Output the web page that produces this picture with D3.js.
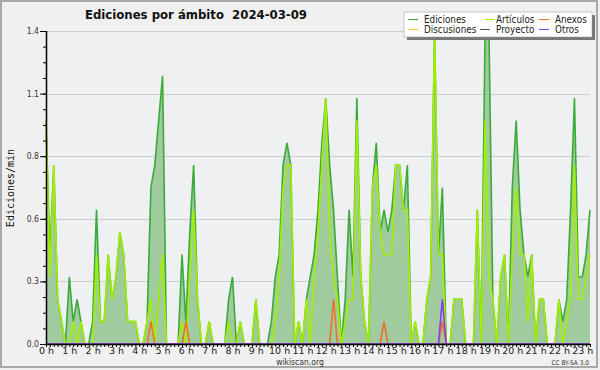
<!DOCTYPE html>
<html lang="es">
<head>
<meta charset="UTF-8">
<title>Ediciones por ámbito</title>
<script src="https://d3js.org/d3.v7.min.js"></script>
<style>
  body { margin: 0; background: #f0f0f0; }
  svg { display: block; }
  .cond { font-family: "DejaVu Sans Condensed", "DejaVu Sans", sans-serif; font-stretch: condensed; }
</style>
</head>
<body>
<svg id="chart" width="600" height="370"></svg>
<script>
// 10-minute steps, 0:00 .. 23:20
const ediciones = [1.0,0.4,0.8,0.2,0.1,0,0.3,0.1,0.2,0.1,0,0,0.1,0.6,0.1,0.1,0.4,0.2,0.3,0.5,
  0.4,0.1,0.1,0.1,0,0,0.1,0.7,0.8,1.0,1.2,0,0,0,0,0.4,0.1,0.5,0.8,0.2,
  0,0,0.1,0,0,0,0,0.2,0.3,0,0.1,0,0,0,0.2,0,0,0,0.1,0.3,
  0.4,0.8,0.9,0.8,0,0.1,0,0.2,0.3,0.4,0.6,0.9,1.1,0.8,0.6,0.3,0,0.2,0.6,0.3,
  1.1,0.3,0.1,0,0.7,0.9,0.5,0.6,0.5,0.6,0.8,0.8,0.6,0.8,0,0.1,0,0,0.2,0.3,
  1.4,0.4,0.7,0,0,0.2,0.2,0.2,0,0,0,0.6,0,1.4,1.4,0.2,0,0.3,0.4,0,
  0.7,1.0,0.6,0.4,0.3,0.4,0,0.2,0.2,0,0,0,0.2,0.1,0.2,0.6,1.1,0.3,0.3,0.4,
  0.6];
const articulos = [1.0,0.3,0.8,0.2,0.1,0,0,0.1,0,0.1,0,0,0,0.4,0.1,0.1,0.4,0.2,0.3,0.5,
  0.4,0.1,0.1,0.1,0,0,0.1,0.2,0,0.2,0.4,0,0,0,0,0.1,0,0.3,0.6,0.2,
  0,0,0.1,0,0,0,0,0.1,0,0,0.1,0,0,0,0.2,0,0,0,0,0.1,
  0.3,0.7,0.8,0.8,0,0.1,0,0.2,0,0.3,0.5,0.8,1.1,0.5,0.3,0.2,0,0.1,0.2,0.2,
  1.0,0.3,0.1,0,0.7,0.8,0.5,0.4,0.4,0.4,0.8,0.8,0.6,0.6,0,0.1,0,0,0.2,0.3,
  1.4,0.4,0.4,0,0,0.2,0.2,0.2,0,0,0,0.6,0,1.0,0.3,0.2,0,0.3,0.4,0,
  0.4,0.7,0.4,0.4,0.1,0.4,0,0.2,0.2,0,0,0,0.2,0,0.1,0.2,0.8,0.2,0.2,0.3,
  0.4];
const discusiones = [0,0,0,0,0,0,0,0,0,0,0,0,0,0,0,0,0,0,0,0,
  0,0,0,0,0,0,0,0,0,0,0,0,0,0,0,0,0,0,0,0,
  0,0,0,0,0,0,0,0,0,0,0,0,0,0,0,0,0,0,0,0,
  0,0,0,0,0,0,0,0,0,0,0,0,0,0,0,0,0,0,0,0,
  0,0,0,0,0,0,0,0,0,0,0,0,0,0,0,0,0,0,0,0,
  0,0,0,0,0,0,0,0,0,0,0,0,0,0,0,0,0,0,0,0,
  0,0,0,0,0,0,0,0,0,0,0,0,0,0,0,0,0,0,0,0,
  0];
const proyecto = discusiones.slice();
const anexos = [0,0,0,0,0,0,0,0,0,0,0,0,0,0,0,0,0,0,0,0,
  0,0,0,0,0,0,0,0.1,0,0,0,0,0,0,0,0,0.1,0,0,0,
  0,0,0,0,0,0,0,0,0,0,0,0,0,0,0,0,0,0,0,0,
  0,0,0,0,0,0,0,0,0,0,0,0,0,0,0.2,0,0,0,0,0,
  0,0,0,0,0,0,0,0.1,0,0,0,0,0,0,0,0,0,0,0,0,
  0,0,0.1,0,0,0,0,0,0,0,0,0,0,0,0,0,0,0,0,0,
  0,0,0,0,0,0,0,0,0,0,0,0,0,0,0,0,0,0,0,0,
  0];
const otros = [0,0,0,0,0,0,0,0,0,0,0,0,0,0,0,0,0,0,0,0,
  0,0,0,0,0,0,0,0,0,0,0,0,0,0,0,0,0,0,0,0,
  0,0,0,0,0,0,0,0,0,0,0,0,0,0,0,0,0,0,0,0,
  0,0,0,0,0,0,0,0,0,0,0,0,0,0,0,0,0,0,0,0,
  0,0,0,0,0,0,0,0,0,0,0,0,0,0,0,0,0,0,0,0,
  0,0,0.2,0,0,0,0,0,0,0,0,0,0,0,0,0,0,0,0,0,
  0,0,0,0,0,0,0,0,0,0,0,0,0,0,0,0,0,0,0,0,
  0];
const yMajor = [0, 0.28, 0.56, 0.84, 1.12, 1.4];
const hourLabels = d3.range(24).map(h => h + " h");

const series = [
  {name: "Ediciones",   values: ediciones,   color: "#3aab3a"},
  {name: "Artículos",   values: articulos,   color: "#a6ee00"},
  {name: "Anexos",      values: anexos,      color: "#f0702a"},
  {name: "Discusiones", values: discusiones, color: "#ffcc33"},
  {name: "Proyecto",    values: proyecto,    color: "#555555"},
  {name: "Otros",       values: otros,       color: "#8a3cf0"}
];

const svg = d3.select("#chart");
const pLeft = 46, pRight = 590, pTop = 31, pBottom = 344;

const x = d3.scaleLinear().domain([0, ediciones.length - 1]).range([pLeft, pRight]);
const y = d3.scaleLinear().domain([0, 1.4]).range([pBottom, pTop]);

// frame
svg.append("rect").attr("x", 1).attr("y", 1).attr("width", 596).attr("height", 366)
  .attr("fill", "#f0f0f0").attr("stroke", "#a8a8a8").attr("stroke-width", 2);

// plot background
svg.append("rect").attr("x", pLeft).attr("y", pTop).attr("width", pRight - pLeft).attr("height", pBottom - pTop)
  .attr("fill", "#eef0f2");

// grid
svg.append("g").selectAll("line").data(yMajor.slice(1)).join("line")
  .attr("x1", pLeft).attr("x2", pRight)
  .attr("y1", d => Math.round(y(d)) + 0.5).attr("y2", d => Math.round(y(d)) + 0.5)
  .attr("stroke", "#cccccc");

// area under total
const area = d3.area().x((d, i) => x(i)).y0(pBottom).y1(d => y(d));
svg.append("path").datum(ediciones).attr("d", area).attr("fill", "#9fcb9f");

const line = d3.line().x((d, i) => x(i)).y(d => y(d));
// draw order: Ediciones first, others on top
series.forEach(s => {
  svg.append("path").datum(s.values).attr("d", line)
    .attr("fill", "none").attr("stroke", s.color).attr("stroke-width", 1.6)
    .attr("stroke-linejoin", "miter");
});

// y axis
const yAxis = d3.axisLeft(y).tickValues(yMajor).tickSize(6).tickPadding(1).tickFormat(d3.format(".1f"));
const yMinor = d3.axisLeft(y).tickValues(d3.range(0, 21).map(k => k * 0.07)).tickSize(3).tickFormat("");
const gyMinor = svg.append("g").attr("transform", `translate(${pLeft},0)`).call(yMinor);
const gy = svg.append("g").attr("transform", `translate(${pLeft},0)`).call(yAxis);
[gy, gyMinor].forEach(g => {
  g.select(".domain").remove();
  g.selectAll("line").attr("stroke", "#000");
});
gy.selectAll("text").attr("class", "cond").attr("font-size", 8.5).attr("fill", "#333").attr("dy", "0.3em");
svg.append("line").attr("x1", pLeft + 0.5).attr("x2", pLeft + 0.5).attr("y1", pTop).attr("y2", pBottom + 1)
  .attr("stroke", "#000").attr("stroke-width", 1.5);

// x axis
const xAxis = d3.axisBottom(x).tickValues(d3.range(0, ediciones.length)).tickSize(3).tickPadding(0)
  .tickFormat(i => i % 6 === 0 ? hourLabels[i / 6] : "");
const gx = svg.append("g").attr("transform", `translate(0,${pBottom})`).call(xAxis);
gx.select(".domain").remove();
gx.selectAll("line").attr("stroke", "#000");
gx.selectAll("text").attr("font-family", "DejaVu Sans, sans-serif").attr("font-size", 9.5).attr("fill", "#222");
svg.append("line").attr("x1", pLeft).attr("x2", pRight).attr("y1", pBottom + 0.5).attr("y2", pBottom + 0.5)
  .attr("stroke", "#000").attr("stroke-width", 1.5);

// titles
svg.append("text").attr("class", "cond").attr("x", 85).attr("y", 19)
  .attr("font-size", 13).attr("font-weight", "bold").attr("fill", "#111")
  .style("white-space", "pre").attr("xml:space", "preserve")
  .text("Ediciones por ámbito  2024-03-09");
svg.append("text").attr("transform", "translate(13.5,188) rotate(-90)")
  .attr("text-anchor", "middle").attr("font-family", "DejaVu Sans Mono, monospace").attr("font-size", 10)
  .attr("fill", "#111").text("Ediciones/min");
svg.append("text").attr("class", "cond").attr("x", 300).attr("y", 365).attr("text-anchor", "middle")
  .attr("font-size", 8.5).attr("fill", "#333").text("wikiscan.org");
svg.append("text").attr("class", "cond").attr("x", 589).attr("y", 365).attr("text-anchor", "end")
  .attr("font-size", 6.5).attr("fill", "#333").text("CC BY-SA 3.0");

// legend
const lg = svg.append("g");
lg.append("rect").attr("x", 407).attr("y", 15).attr("width", 188).attr("height", 25).attr("fill", "#777");
lg.append("rect").attr("x", 404).attr("y", 12).attr("width", 188).attr("height", 25)
  .attr("fill", "#ffffff").attr("stroke", "#999").attr("stroke-width", 0.5);
const legendOrder = ["Ediciones", "Artículos", "Anexos", "Discusiones", "Proyecto", "Otros"];
const colX = [[408, 424], [484, 496], [539, 555]];
legendOrder.forEach((name, k) => {
  const s = series.find(d => d.name === name);
  const col = k % 3, row = Math.floor(k / 3);
  const cy = 19 + row * 10;
  let lx = colX[col][0], tx = colX[col][1];
  if (col === 1) { lx = row === 0 ? 485 : 480; }
  lg.append("line").attr("x1", lx).attr("x2", lx + 10).attr("y1", cy + 0.5).attr("y2", cy + 0.5)
    .attr("stroke", s.color).attr("stroke-width", 1);
  lg.append("text").attr("class", "cond").attr("x", tx).attr("y", cy + 3.5)
    .attr("font-size", 9.8).attr("fill", "#222").text(name);
});
</script>
</body>
</html>
